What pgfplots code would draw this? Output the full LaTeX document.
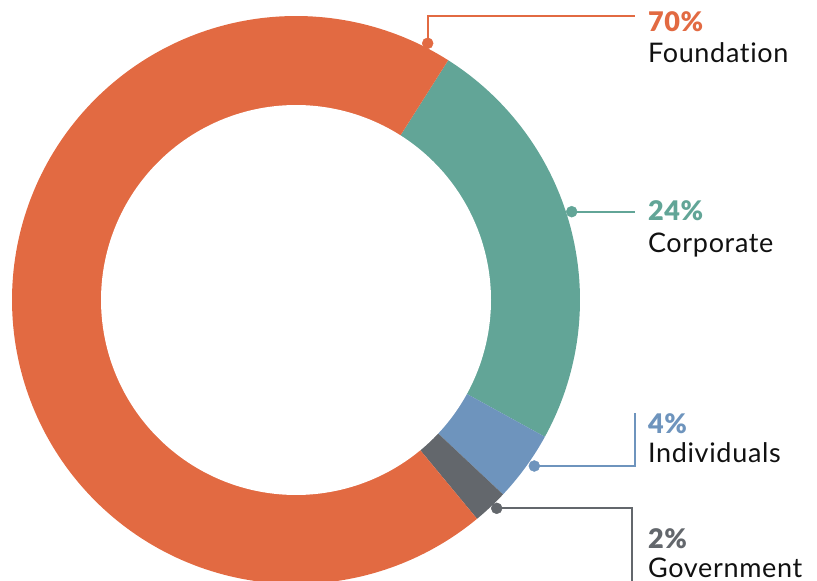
\documentclass[border=0pt]{standalone}
\usepackage{pgfplots}
\pgfplotsset{compat=1.18}
\usepackage{fontspec}
\setmainfont{Lato}[Ligatures={NoCommon},LetterSpace=2.5]
\newfontfamily\heavy{Lato Black}[LetterSpace=2.5]
\definecolor{cOrange}{HTML}{E26A42}
\definecolor{cTeal}{HTML}{62A597}
\definecolor{cBlue}{HTML}{6E94BD}
\definecolor{cGrey}{HTML}{63676C}
\definecolor{cText}{HTML}{111111}
\tikzset{lbl/.style={inner sep=0pt,outer sep=0pt,anchor=base west,font=\fontsize{27}{30}\selectfont}}
% shares (percent)
\def\pCorp{24}
\def\pInd{4}
\def\pGov{2}
\def\pFound{70}
\begin{document}
\begin{tikzpicture}
\pgfmathsetmacro{\cx}{296}
\pgfmathsetmacro{\cy}{281}
\def\R{284}
\def\r{195}
\pgfmathsetmacro{\aA}{57.6}
\pgfmathsetmacro{\aB}{\aA-3.6*\pCorp}
\pgfmathsetmacro{\aC}{\aB-3.6*\pInd}
\pgfmathsetmacro{\aD}{\aC-3.6*\pGov}
\pgfmathsetmacro{\aE}{\aD-3.6*\pFound}
\begin{axis}[width=817pt,height=581pt,scale only axis,
  xmin=0,xmax=817,ymin=0,ymax=581,hide axis,clip=true]
\addplot[fill=cTeal,draw=none,domain=\aB:\aA,samples=80] ({\cx+\R*cos(x)},{\cy+\R*sin(x)}) -- (axis cs:\cx,\cy) -- cycle;
\addplot[fill=cBlue,draw=none,domain=\aC:\aB,samples=20] ({\cx+\R*cos(x)},{\cy+\R*sin(x)}) -- (axis cs:\cx,\cy) -- cycle;
\addplot[fill=cGrey,draw=none,domain=\aD:\aC,samples=20] ({\cx+\R*cos(x)},{\cy+\R*sin(x)}) -- (axis cs:\cx,\cy) -- cycle;
\addplot[fill=cOrange,draw=none,domain=\aE:\aD,samples=200] ({\cx+\R*cos(x)},{\cy+\R*sin(x)}) -- (axis cs:\cx,\cy) -- cycle;
\addplot[fill=white,draw=none,domain=0:360,samples=240] ({\cx+\r*cos(x)},{\cy+\r*sin(x)}) -- cycle;
% leader lines
\addplot[cOrange,line width=2.2pt,mark=none] coordinates {(427.7,537.7) (427.7,565.3) (635,565.3)};
\addplot[cOrange,only marks,mark=*,mark size=5.5pt] coordinates {(427.7,537.7)};
\addplot[cTeal,line width=2.2pt,mark=none] coordinates {(571.7,369.3) (635,369.3)};
\addplot[cTeal,only marks,mark=*,mark size=5.5pt] coordinates {(571.7,369.3)};
\addplot[cBlue,line width=2.2pt,mark=none] coordinates {(534.3,115) (635,115) (635,168.3)};
\addplot[cBlue,only marks,mark=*,mark size=5.5pt] coordinates {(534.3,115)};
\addplot[cGrey,line width=2.2pt,mark=none] coordinates {(496.7,72.7) (632.3,72.7) (632.3,-5)};
\addplot[cGrey,only marks,mark=*,mark size=5.5pt] coordinates {(496.7,72.7)};
% labels
\node[lbl,text=cOrange] at (axis cs:648,549) {\heavy 70\%};
\node[lbl,text=cText] at (axis cs:648,518) {Foundation};
\node[lbl,text=cTeal] at (axis cs:648,360.3) {\heavy 24\%};
\node[lbl,text=cText] at (axis cs:648,328.3) {Corporate};
\node[lbl,text=cBlue] at (axis cs:648,147) {\heavy 4\%};
\node[lbl,text=cText] at (axis cs:648,118) {Individuals};
\node[lbl,text=cGrey] at (axis cs:648,32.5) {\heavy 2\%};
\node[lbl,text=cText] at (axis cs:648,4) {Government};
\end{axis}
\pgfresetboundingbox
\useasboundingbox (current axis.south west) rectangle (current axis.north east);
\end{tikzpicture}
\end{document}
